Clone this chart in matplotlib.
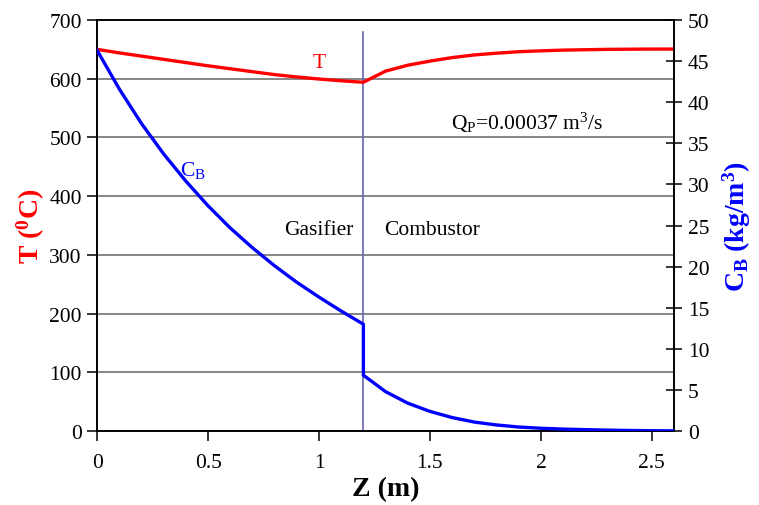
import matplotlib
matplotlib.use("Agg")
import matplotlib.pyplot as plt
from matplotlib.ticker import FuncFormatter

plt.rcParams['font.family'] = ['Liberation Serif', 'DejaVu Serif']
plt.rcParams['mathtext.fontset'] = 'custom'
plt.rcParams['mathtext.rm'] = 'Liberation Serif'
plt.rcParams['mathtext.it'] = 'Liberation Serif:italic'
plt.rcParams['mathtext.bf'] = 'Liberation Serif:bold'

# Axial position (m)
z = [0.0, 0.1, 0.2, 0.3, 0.4, 0.5, 0.6, 0.7, 0.8, 0.9, 1.0, 1.1, 1.2,
     1.2, 1.3, 1.4, 1.5, 1.6, 1.7, 1.8, 1.9, 2.0, 2.1, 2.2, 2.3, 2.4, 2.5, 2.6]
# Temperature (deg C)
temp = [650, 644, 638.5, 633, 627.5, 622, 617, 612, 607, 603, 599.5, 596.5, 594,
        594, 613, 623, 630, 636, 640.5, 643.5, 646, 647.5, 648.7, 649.4, 650, 650.3, 650.5, 650.5]
# Char concentration C_B (kg/m3)
cb = [46.3, 41.6, 37.4, 33.7, 30.4, 27.4, 24.7, 22.3, 20.1, 18.1, 16.3, 14.6, 13.0,
      6.8, 4.8, 3.4, 2.4, 1.65, 1.1, 0.75, 0.5, 0.35, 0.25, 0.18, 0.12, 0.08, 0.05, 0.03]

z_interface = 1.2
t_ticks = [0, 100, 200, 300, 400, 500, 600, 700]
cb_ticks = [0, 5, 10, 15, 20, 25, 30, 35, 40, 45, 50]
z_ticks = [0, 0.5, 1, 1.5, 2, 2.5]

fig = plt.figure(figsize=(7.59, 5.06), dpi=100)
ax = fig.add_axes([0.128, 0.146, 0.76, 0.8125])
ax2 = ax.twinx()

ax.set_xlim(0, 2.6)
ax.set_ylim(0, 700)
ax2.set_ylim(0, 50)

for t in t_ticks[1:-1]:
    ax.axhline(t, color='#666666', lw=1.1, zorder=1)

ax.plot([z_interface, z_interface], [0, 680], color='#6464b4', lw=1.2, zorder=2)

ax.plot(z, temp, color='#ff0000', lw=2.4, zorder=4, solid_joinstyle='round')
ax2.plot(z, cb, color='#0000ff', lw=2.4, zorder=4, solid_joinstyle='round')

ax.set_xticks(z_ticks)
ax.xaxis.set_major_formatter(FuncFormatter(lambda v, p: f"{v:g}"))
ax.set_yticks(t_ticks)
ax2.set_yticks(cb_ticks)

ax.tick_params(axis='both', direction='out', length=7, width=1.1, labelsize=15.5, pad=4,
               colors='black')
ax.tick_params(axis='x', pad=9)
ax2.tick_params(axis='y', direction='inout', length=12, width=1.1, labelsize=15.5, pad=4)

for a in (ax, ax2):
    for s in a.spines.values():
        s.set_linewidth(1.2)

ax.set_xlabel('Z (m)', fontsize=20, fontweight='bold', labelpad=3)
ax.set_ylabel(r'$\mathbf{T\ (^0C)}$', fontsize=20, color='#ff0000', labelpad=2)
ax2.set_ylabel(r'$\mathbf{C_B\ (kg/m^3)}$', fontsize=20, color='#0000ff', labelpad=8)

ax.text(1.0, 628, 'T', color='#ff0000', fontsize=15.5, ha='center', va='center')
ax.text(0.43, 446, r'C$_\mathrm{B}$', color='#0000ff', fontsize=15.5, ha='center', va='center')
ax.text(1.0, 344, 'Gasifier', fontsize=15.5, ha='center', va='center')
ax.text(1.51, 344, 'Combustor', fontsize=15.5, ha='center', va='center')
ax.text(1.94, 527, r'Q$_\mathrm{P}$=0.00037 m$^3$/s', fontsize=15.5, ha='center', va='center')

fig.savefig('out.png', dpi=100)
